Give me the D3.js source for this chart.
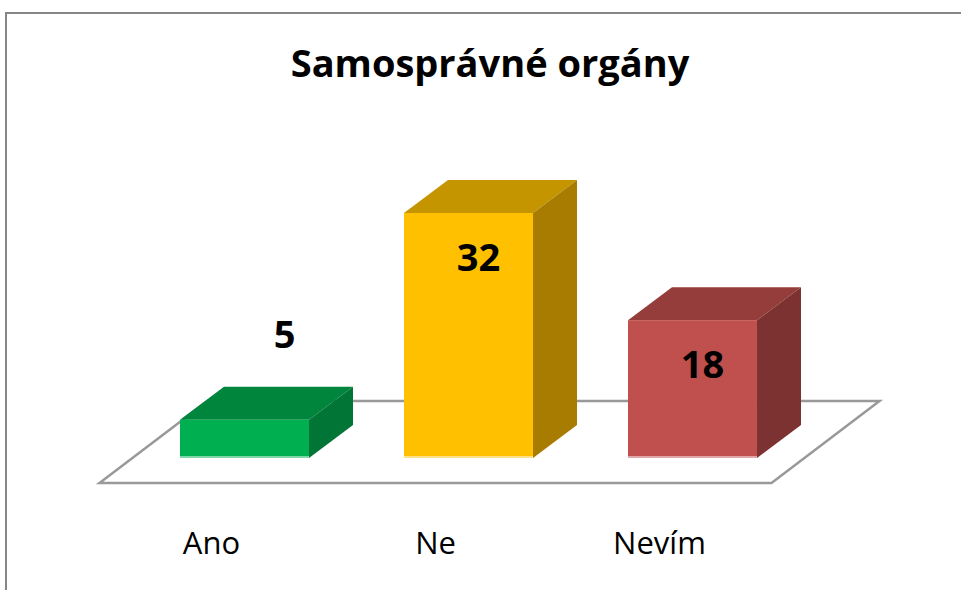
<!DOCTYPE html>
<html>
	<head>
		<meta charset="utf-8">
		<title>Samosprávné orgány</title>
		<script src="https://cdn.jsdelivr.net/npm/d3@7"></script>
		<style>
			body { margin: 0; background: #fff; }
			text { font-family: 'Open Sans', sans-serif; }
		</style>
	</head>
	<body>
		<script>
			var title = 'Samosprávné orgány';
			var categories = ['Ano', 'Ne', 'Nevím'];
			var values = [5, 32, 18];
			var fronts = ['#00b050', '#ffc000', '#c0504d'];
			var tops = ['#00853c', '#c59500', '#943d3a'];
			var sides = ['#007535', '#a77c00', '#7c3230'];
			var lights = ['#7fd7a7', '#ffe08a', '#e0a8a6'];

			var w = 961,
				h = 590,
				dx = 44, dy = -33;      // depth of a bar
				fdx = 108, fdy = -82;   // depth of the floor

			var svg = d3.select('body')
						.append('svg')
						.attr('width', w)
						.attr('height', h);

			// chart frame (cut off at right and bottom)
			svg.append('rect')
				.attr('x', 6).attr('y', 13)
				.attr('width', 1000).attr('height', 700)
				.attr('fill', 'none')
				.attr('stroke', '#868686')
				.attr('stroke-width', 2);

			svg.append('text')
				.attr('x', 490).attr('y', 77)
				.attr('text-anchor', 'middle')
				.attr('font-size', 38)
				.attr('font-weight', 'bold')
				.text(title);

			var x = d3.scaleBand()
						.domain(categories)
						.range([132.5, 804.5])
						.paddingInner(0.424)
						.paddingOuter(0.212);

			var y = d3.scaleLinear()
						.domain([0, 32])
						.range([458, 213]);

			// floor
			var fx0 = x.range()[0] - 33, fx1 = x.range()[1] - 33, fy = y(0) + 25;
			svg.append('path')
				.attr('d', 'M' + fx0 + ',' + fy + 'L' + fx1 + ',' + fy +
					'L' + (fx1 + fdx) + ',' + (fy + fdy) + 'L' + (fx0 + fdx) + ',' + (fy + fdy) + 'Z')
				.attr('fill', '#fff')
				.attr('stroke', '#999')
				.attr('stroke-width', 2.5);

			var bars = svg.selectAll('g.bar')
						.data(values)
						.enter()
						.append('g')
						.attr('class', 'bar');

			bars.append('path')
				.attr('fill', function(d, i) { return tops[i]; })
				.attr('d', function(d, i) {
					var x0 = x(categories[i]), x1 = x0 + x.bandwidth(), t = y(d);
					return 'M' + x0 + ',' + t + 'L' + x1 + ',' + t + 'L' + (x1 + dx) + ',' + (t + dy) +
						'L' + (x0 + dx) + ',' + (t + dy) + 'Z';
				});

			bars.append('path')
				.attr('fill', function(d, i) { return sides[i]; })
				.attr('d', function(d, i) {
					var x1 = x(categories[i]) + x.bandwidth(), t = y(d), b = y(0);
					return 'M' + x1 + ',' + t + 'L' + (x1 + dx) + ',' + (t + dy) + 'L' + (x1 + dx) + ',' + (b + dy) +
						'L' + x1 + ',' + b + 'Z';
				});

			bars.append('rect')
				.attr('x', function(d, i) { return x(categories[i]); })
				.attr('y', function(d) { return y(d); })
				.attr('width', x.bandwidth())
				.attr('height', function(d) { return y(0) - y(d); })
				.attr('fill', function(d, i) { return fronts[i]; });

			bars.append('rect')
				.attr('x', function(d, i) { return x(categories[i]); })
				.attr('y', y(0) - 2)
				.attr('width', x.bandwidth())
				.attr('height', 2)
				.attr('fill', function(d, i) { return lights[i]; });

			// value labels: inside the tall bars, above the short one
			bars.append('text')
				.attr('text-anchor', 'middle')
				.attr('font-size', 38)
				.attr('font-weight', 'bold')
				.attr('x', function(d, i) {
					var c = x(categories[i]) + x.bandwidth() / 2;
					return y(0) - y(d) > 100 ? c + 10 : c + 40;
				})
				.attr('y', function(d) {
					return y(0) - y(d) > 100 ? y(d) + 58 : y(d) - 72;
				})
				.text(function(d) { return d; });

			// category labels along the front edge of the floor
			svg.selectAll('text.cat')
				.data(categories)
				.enter()
				.append('text')
				.attr('class', 'cat')
				.attr('text-anchor', 'middle')
				.attr('font-size', 31)
				.attr('x', function(d) { return x(d) + x.bandwidth() / 2 - 33; })
				.attr('y', 554)
				.text(function(d) { return d; });
		</script>
	</body>
</html>
